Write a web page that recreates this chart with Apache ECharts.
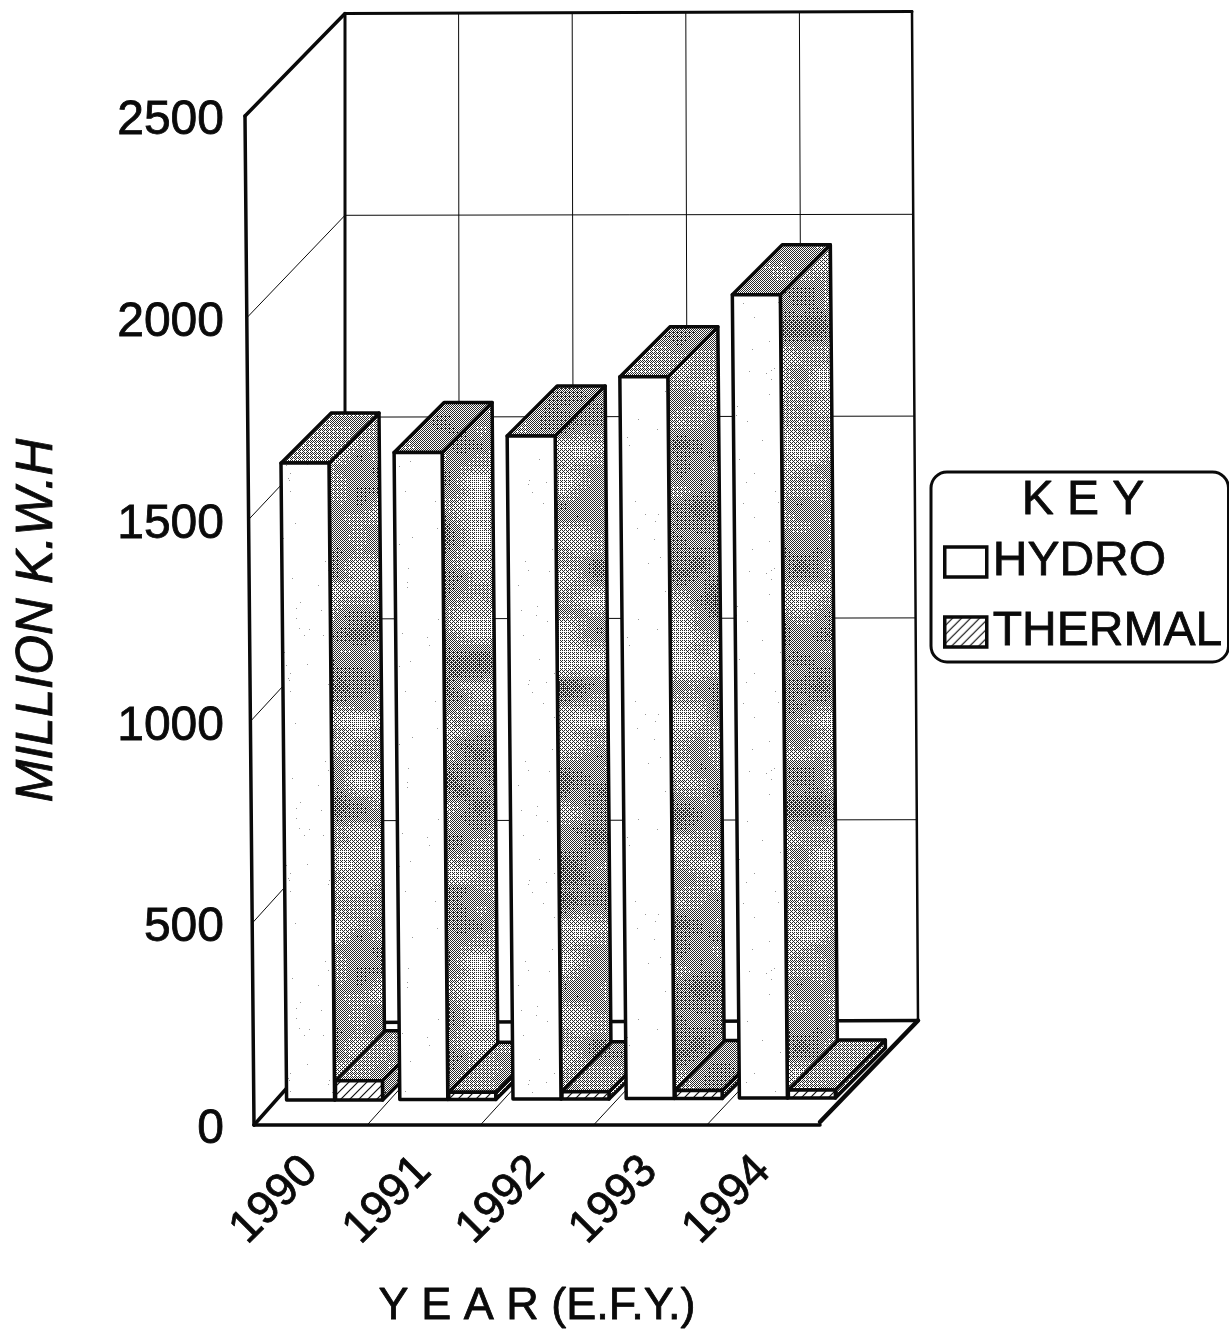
<!DOCTYPE html>
<html>
<head>
<meta charset="utf-8">
<style>
html, body { margin: 0; padding: 0; background: #fff; }
#chart { width: 1229px; height: 1330px; }
</style>
<script src="https://cdn.jsdelivr.net/npm/echarts@6/dist/echarts.min.js"></script>
</head>
<body>
<div id="chart"></div>
<script>
const years = ['1990', '1991', '1992', '1993', '1994'];
const hydro = [1578, 1603, 1643, 1788, 1990];
const thermal = [48, 18, 18, 20, 20];
const yTicks = [0, 500, 1000, 1500, 2000, 2500];

const font = '"Liberation Sans", Arial, sans-serif';
const black = '#0a0a0a';

function hash(i, j) {
    const s = Math.sin(i * 12.9898 + j * 78.233) * 43758.5453;
    return s - Math.floor(s);
}

// smooth blotches, wraps at nx by ny cells
function blotch(x, y, cw, ch, nx, ny) {
    const fx = x / cw, fy = y / ch;
    const i = Math.floor(fx), j = Math.floor(fy);
    const sx = (fx - i) * (fx - i) * (3 - 2 * (fx - i));
    const sy = (fy - j) * (fy - j) * (3 - 2 * (fy - j));
    const h = (a, b) => hash(a % nx, b % ny);
    const top = h(i, j) * (1 - sx) + h(i + 1, j) * sx;
    const bot = h(i, j + 1) * (1 - sx) + h(i + 1, j + 1) * sx;
    return top * (1 - sy) + bot * sy;
}

// dithered grey patches, the look of the scanned 3d sides
function mottled(base, amp) {
    const bayer = [0, 8, 2, 10, 12, 4, 14, 6, 3, 11, 1, 9, 15, 7, 13, 5];
    const w = 480, h = 480;
    const c = document.createElement('canvas');
    c.width = w;
    c.height = h;
    const ctx = c.getContext('2d');
    for (let y = 0; y < h; y++) {
        for (let x = 0; x < w; x++) {
            const n = blotch(x, y, 40, 30, 12, 16) * 0.7 + blotch(x, y, 20, 12, 24, 40) * 0.3;
            const d = base + amp * (n - 0.5) * 2;
            const t = (bayer[(y % 4) * 4 + (x % 4)] + 0.5) / 16;
            ctx.fillStyle = d > t ? '#2a2a2a' : '#ffffff';
            ctx.fillRect(x, y, 1, 1);
        }
    }
    return { image: c, repeat: 'repeat' };
}

function hatch() {
    const size = 9;
    const c = document.createElement('canvas');
    c.width = c.height = size;
    const ctx = c.getContext('2d');
    ctx.fillStyle = '#fff';
    ctx.fillRect(0, 0, size, size);
    ctx.strokeStyle = '#111';
    ctx.lineWidth = 1.2;
    ctx.beginPath();
    ctx.moveTo(-1, size + 1);
    ctx.lineTo(size + 1, -1);
    ctx.moveTo(-1, 1);
    ctx.lineTo(1, -1);
    ctx.moveTo(size - 1, size + 1);
    ctx.lineTo(size + 1, size - 1);
    ctx.stroke();
    return { image: c, repeat: 'repeat' };
}

// sparse specks on the white fronts
function speckle() {
    const size = 200;
    const c = document.createElement('canvas');
    c.width = c.height = size;
    const ctx = c.getContext('2d');
    ctx.fillStyle = '#fff';
    ctx.fillRect(0, 0, size, size);
    ctx.fillStyle = '#999';
    for (let y = 0; y < size; y++) {
        for (let x = 0; x < size; x++) {
            if (hash(x + 3, y + 7) > 0.998) ctx.fillRect(x, y, 1, 1);
        }
    }
    return { image: c, repeat: 'repeat' };
}

const sideFill = mottled(0.47, 0.26);
const topFill = mottled(0.48, 0.12);
const hatchFill = hatch();
const speckFill = speckle();

const depth = 50;      // bar depth
const floorShift = 25; // bars stand this far in from the front edge
const tilt = 0.0088;   // verticals lean slightly to the left going up

function line(x1, y1, x2, y2, lw) {
    return {
        type: 'line',
        shape: { x1, y1, x2, y2 },
        style: { stroke: black, lineWidth: lw, lineCap: 'round' },
        silent: true,
        z2: 1
    };
}

function renderFrame(params, api) {
    const band = api.size([1, 0])[0];
    const [x0, yBase] = api.coord([0, 0]);
    const left = x0 - band / 2;
    const right = left + band * years.length;
    const yTop = api.coord([0, 2500])[1];
    const backL = left + 91;
    const backR = right + 98;
    const back = y => y - 102.5;
    const kids = [];

    yTicks.forEach(function (v) {
        const y = api.coord([0, v])[1];
        const lean = 9 * v / 2500;
        if (v > 0 && v < 2500) {
            kids.push(line(left - lean, y, backL, back(y), 1));
            kids.push(line(backL, back(y), backR - 6 * v / 2500, back(y) - 1, 1));
        }
    });
    for (let i = 1; i < years.length; i++) {
        const bx = left + band * i;
        const k = i / years.length;
        const vx = backL + (backR - backL) * k;
        kids.push(line(bx, yBase, vx, back(yBase), 1));
        kids.push(line(vx, back(yBase), vx - 5 * k, back(yTop) - 1, 1));
    }
    // outer walls and floor
    kids.push(line(left - 9, yTop, left, yBase, 3.5));
    kids.push(line(left - 9, yTop, backL, back(yTop), 3.5));
    kids.push(line(left, yBase, backL, back(yBase), 3.5));
    kids.push(line(backL, back(yTop), backL, back(yBase), 3));
    kids.push(line(backL, back(yTop), backR - 6, back(yTop) - 2, 3));
    kids.push(line(backR - 6, back(yTop) - 2, backR, back(yBase) - 2, 2.5));
    kids.push(line(backL, back(yBase), backR, back(yBase) - 2, 3.5));
    kids.push(line(right, yBase - 3, backR, back(yBase) - 2, 4.5));
    return { type: 'group', children: kids };
}

function renderBar(offset, width, frontFill, order) {
    return function (params, api) {
        const i = api.value(0);
        const v = api.value(1);
        const center = api.coord([i, 0])[0];
        const base = api.coord([i, 0])[1] - floorShift - i * 0.5;
        const top = api.coord([i, v])[1] - floorShift - i * 0.5;
        const x = center + offset;
        const lean = (base - top) * tilt;
        const z2 = 10 + i * 2 + order;
        const face = function (points, fill) {
            return {
                type: 'polygon',
                shape: { points },
                style: { fill, stroke: black, lineWidth: 3.5, lineJoin: 'round' },
                silent: true,
                z2
            };
        };
        return {
            type: 'group',
            children: [
                face([[x + width, base], [x + width + depth, base - depth], [x + width + depth - lean, top - depth], [x + width - lean, top]], sideFill),
                face([[x - lean, top], [x + depth - lean, top - depth], [x + width + depth - lean, top - depth], [x + width - lean, top]], topFill),
                face([[x, base], [x - lean, top], [x + width - lean, top], [x + width, base]], frontFill)
            ]
        };
    };
}

const chart = echarts.init(document.getElementById('chart'), null, { renderer: 'canvas' });
const heavy = { textBorderColor: black, textBorderWidth: 0.8 };
chart.setOption({
    animation: false,
    backgroundColor: '#ffffff',
    textStyle: { fontFamily: font },
    title: {
        text: 'K E Y',
        left: 1078,
        top: 472,
        textAlign: 'center',
        textStyle: Object.assign({ fontFamily: font, fontSize: 48, fontWeight: 'normal', color: black }, heavy)
    },
    grid: { left: 254, top: 116, width: 566, height: 1009, outerBoundsMode: 'none' },
    legend: {
        left: 931,
        top: 472,
        orient: 'vertical',
        align: 'left',
        padding: [65, 6, 5, 12],
        itemGap: 20,
        itemWidth: 42,
        itemHeight: 30,
        borderColor: black,
        borderWidth: 3,
        borderRadius: 16,
        selectedMode: false,
        textStyle: Object.assign({ fontFamily: font, fontSize: 48, color: black, lineHeight: 50, padding: [0, 0, 0, 1] }, heavy),
        data: [
            { name: 'HYDRO', icon: 'rect', itemStyle: { color: '#ffffff', borderColor: black, borderWidth: 3.5 } },
            { name: 'THERMAL', icon: 'rect', itemStyle: { color: hatchFill, borderColor: black, borderWidth: 3.5 } }
        ]
    },
    xAxis: {
        type: 'category',
        data: years,
        name: 'Y E A R (E.F.Y.)',
        nameLocation: 'middle',
        nameGap: 159,
        nameTextStyle: Object.assign({ fontFamily: font, fontSize: 45, color: black }, heavy),
        axisTick: { show: false },
        axisLine: { lineStyle: { color: black, width: 3.5 } },
        axisLabel: Object.assign({ rotate: 45, margin: 39, fontFamily: font, fontSize: 46, color: black, interval: 0 }, heavy)
    },
    yAxis: {
        type: 'value',
        min: 0,
        max: 2500,
        interval: 500,
        name: 'MILLION K.W.H',
        nameLocation: 'middle',
        nameGap: 191,
        nameTextStyle: Object.assign({ fontFamily: font, fontSize: 51, fontStyle: 'italic', color: black }, heavy),
        axisLine: { show: false },
        axisTick: { show: false },
        splitLine: { show: false },
        axisLabel: Object.assign({ margin: 30, verticalAlign: 'top', lineHeight: 10, fontFamily: font, fontSize: 48, color: black, formatter: v => String(v) }, heavy)
    },
    series: [
        {
            name: 'frame',
            type: 'custom',
            silent: true,
            data: [[0, 0]],
            encode: { x: 0, y: 1 },
            renderItem: renderFrame
        },
        {
            name: 'HYDRO',
            type: 'custom',
            silent: true,
            data: hydro.map((v, i) => [i, v]),
            encode: { x: 0, y: 1 },
            renderItem: renderBar(-24, 48, speckFill, 0)
        },
        {
            name: 'THERMAL',
            type: 'custom',
            silent: true,
            data: thermal.map((v, i) => [i, v]),
            encode: { x: 0, y: 1 },
            renderItem: renderBar(25, 47, hatchFill, 1)
        }
    ]
});
window.addEventListener('resize', function () {
    chart.resize();
});
</script>
</body>
</html>
